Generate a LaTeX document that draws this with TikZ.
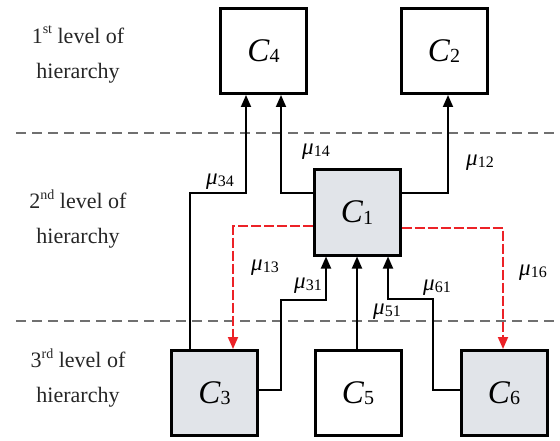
\documentclass[tikz,border=0pt]{standalone}
\usepackage{fontspec}
\setmainfont{Liberation Serif}
\usetikzlibrary{arrows.meta}
\newcommand\cvar[1]{{\fontsize{33}{33}\selectfont\textit{C}}\raisebox{-0.12em}{\fontsize{20}{20}\selectfont #1}}
\newcommand\muvar[1]{{\fontsize{23}{23}\selectfont\textit{μ}}\raisebox{-0.15em}{\fontsize{16}{16}\selectfont #1}}
\newcommand\supx[1]{\raisebox{0.45em}{\fontsize{14}{14}\selectfont #1}}
\definecolor{boxgray}{HTML}{E1E4E9}
\definecolor{redline}{HTML}{EC2227}
\definecolor{dashgray}{HTML}{707070}
\begin{document}
\begin{tikzpicture}[x=1pt,y=-1pt,
  cbox/.style={draw=black,line width=3pt,minimum width=86pt,minimum height=85pt,inner sep=0pt},
  shaded/.style={fill=boxgray},
  conn/.style={line width=1.8pt,-{Triangle[length=12pt,width=10pt]}},
  redconn/.style={line width=1.8pt,draw=redline,dash pattern=on 10pt off 3pt,-{Triangle[length=12pt,width=10pt,fill=redline]}},
  level/.style={align=center,font=\fontsize{22}{35}\selectfont,text=black!85},
  lab/.style={inner sep=0pt}]
\useasboundingbox (0,0) rectangle (560,441);
% level separators
\draw[dashgray,line width=1.3pt,dash pattern=on 10pt off 6pt] (16,133) -- (560,133);
\draw[dashgray,line width=1.3pt,dash pattern=on 10pt off 6pt] (16,321) -- (560,321);
% level labels
\node[level] (L1) at (78,54) {1\supx{st} level of\\hierarchy};
\node[level] (L2) at (78,219) {2\supx{nd} level of\\hierarchy};
\node[level] (L3) at (78,378) {3\supx{rd} level of\\hierarchy};
% boxes
\node[cbox] (C4) at (263.5,51) {\cvar{4}};
\node[cbox] (C2) at (444,51) {\cvar{2}};
\node[cbox,shaded] (C1) at (357,212.5) {\cvar{1}};
\node[cbox,shaded] (C3) at (214.5,393) {\cvar{3}};
\node[cbox] (C5) at (358,393) {\cvar{5}};
\node[cbox,shaded] (C6) at (504,393) {\cvar{6}};
% connectors
\draw[conn] (C3.north -| 190,0) |- (246,193) -- (C4.south -| 246,0);
\draw[conn] (C1.west |- 0,193) -| (C4.south -| 281,0);
\draw[conn] (C1.east |- 0,193) -| (C2.south -| 448,0);
\draw[conn] (C3.east |- 0,390) -| (281,300) -| (C1.south -| 326,0);
\draw[conn] (C5.north -| 357,0) -- (C1.south -| 357,0);
\draw[conn] (C6.west |- 0,390) -| (433,299) -| (C1.south -| 388,0);
\draw[redconn] (C1.west |- 0,226) -| (C3.north -| 233,0);
\draw[redconn] (C1.east |- 0,228) -| (C6.north -| 503,0);
% labels
\node[lab] (m34) at (220,182) {\muvar{34}};
\node[lab] (m14) at (316,152) {\muvar{14}};
\node[lab] (m12) at (480,163) {\muvar{12}};
\node[lab] (m13) at (265,268) {\muvar{13}};
\node[lab] (m16) at (533,273) {\muvar{16}};
\node[lab] (m31) at (308,286) {\muvar{31}};
\node[lab] (m51) at (387,312) {\muvar{51}};
\node[lab] (m61) at (437,288) {\muvar{61}};
\end{tikzpicture}
\end{document}
